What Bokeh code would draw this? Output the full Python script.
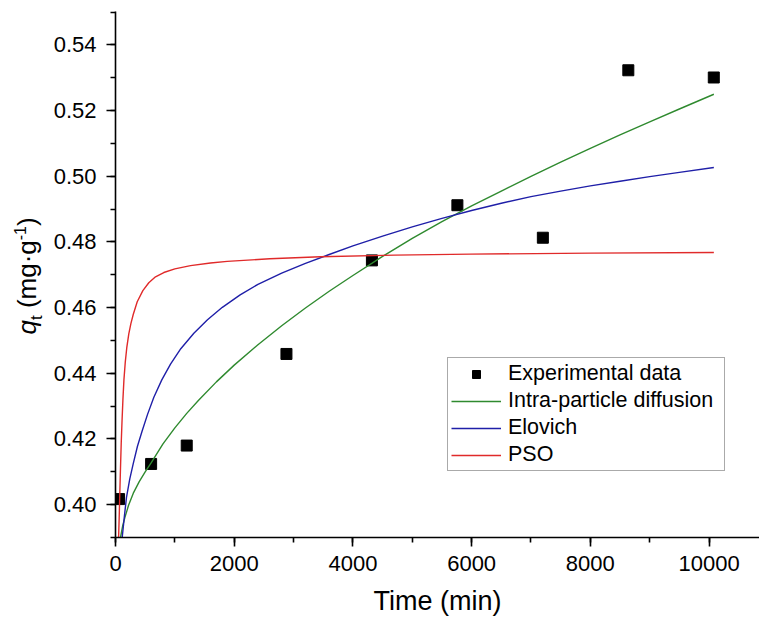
from bokeh.plotting import figure
from bokeh.models import Range1d, SingleIntervalTicker, NumeralTickFormatter, Div
from bokeh.layouts import row
from bokeh.embed import file_html
from bokeh.resources import INLINE

# ---- data ----
time_exp = [60, 600, 1200, 2880, 4320, 5760, 7200, 8640, 10080]
qt_exp = [0.4017, 0.4124, 0.4180, 0.4459, 0.4744, 0.4912, 0.4813, 0.5323, 0.5301]

t_ipd = [84, 120, 160, 220, 300, 400, 500, 600, 800, 1000, 1200, 1400, 1700, 2000, 2400, 2800,
         3200, 3600, 4000, 4500, 5000, 5500, 6000, 6500, 7000, 7500, 8000, 8500, 9000, 9500,
         10081]
q_ipd = [0.3900, 0.3935, 0.3962, 0.3998, 0.4035, 0.4070, 0.4100, 0.4127, 0.4185, 0.4234,
         0.4278, 0.4318, 0.4374, 0.4425, 0.4487, 0.4545, 0.4599, 0.4650, 0.4698, 0.4756,
         0.4811, 0.4862, 0.4910, 0.4955, 0.5000, 0.5043, 0.5085, 0.5126, 0.5166, 0.5205,
         0.5250]

t_elo = [113, 150, 185, 240, 298, 370, 450, 540, 646, 780, 927, 1100, 1320, 1550, 1800, 2100,
         2400, 2800, 3200, 3600, 4000, 4500, 5000, 5500, 6000, 6500, 7000, 7500, 8000, 8500,
         9000, 9500, 10081]
q_elo = [0.3900, 0.3965, 0.4022, 0.4078, 0.4124, 0.4178, 0.4225, 0.4275, 0.4327, 0.4380,
         0.4428, 0.4475, 0.4522, 0.4563, 0.4601, 0.4639, 0.4671, 0.4705, 0.4735, 0.4762,
         0.4788, 0.4818, 0.4846, 0.4872, 0.4896, 0.4918, 0.4938, 0.4955, 0.4971, 0.4985,
         0.4999, 0.5012, 0.5027]

t_pso = [52, 62, 72, 84, 96, 110, 125, 142, 165, 190, 224, 260, 300, 366, 461, 561, 674, 814,
         1000, 1264, 1600, 1882, 2600, 3454, 4700, 5981, 8000, 10081]
q_pso = [0.3900, 0.3960, 0.4030, 0.4110, 0.4185, 0.4255, 0.4320, 0.4380, 0.4435, 0.4478,
         0.4520, 0.4552, 0.4580, 0.4618, 0.4652, 0.4676, 0.4694, 0.4707, 0.4718, 0.4728,
         0.4736, 0.4741, 0.4749, 0.4755, 0.4760, 0.4763, 0.4766, 0.4768]

series_names = ["Experimental data", "Intra-particle diffusion", "Elovich", "PSO"]

X_START, X_END = 0, 10850
Y_START, Y_END = 0.39, 0.5502

FONT = "Liberation Sans"
DIV_W = 45
W, H = 759, 620

p = figure(width=W - DIV_W, height=H, output_backend="svg", toolbar_location=None,
           x_range=Range1d(X_START, X_END), y_range=Range1d(Y_START, Y_END),
           min_border_left=115 - DIV_W, min_border_right=0, min_border_top=11,
           min_border_bottom=83,
           background_fill_color="white", border_fill_color="white")
p.outline_line_color = None
p.grid.visible = False

p.xaxis.ticker = SingleIntervalTicker(interval=2000, num_minor_ticks=2)
p.yaxis.ticker = SingleIntervalTicker(interval=0.02, num_minor_ticks=2)
p.yaxis.formatter = NumeralTickFormatter(format="0.00")
p.xaxis.formatter = NumeralTickFormatter(format="0")

for ax in (p.xaxis, p.yaxis):
    ax.axis_line_width = 1.6
    ax.axis_line_color = "black"
    ax.major_tick_line_width = 1.6
    ax.minor_tick_line_width = 1.6
    ax.major_tick_line_color = "black"
    ax.minor_tick_line_color = "black"
    ax.major_tick_in = 0
    ax.major_tick_out = 9
    ax.minor_tick_in = 0
    ax.minor_tick_out = 5
    ax.major_label_text_font = FONT
    ax.major_label_text_font_size = "22px"
    ax.major_label_text_color = "black"

p.xaxis.major_label_standoff = 9
p.yaxis.major_label_standoff = 10
p.xaxis.axis_label = "Time (min)"
p.xaxis.axis_label_text_font = FONT
p.xaxis.axis_label_text_font_size = "27px"
p.xaxis.axis_label_text_font_style = "normal"
p.xaxis.axis_label_text_color = "black"
p.xaxis.axis_label_standoff = 12

p.scatter(time_exp, qt_exp, marker="square", size=11, color="black",
          legend_label=series_names[0])
p.line(t_ipd, q_ipd, line_color="#2f8a2f", line_width=1.4, legend_label=series_names[1])
p.line(t_elo, q_elo, line_color="#1f1fa8", line_width=1.4, legend_label=series_names[2])
p.line(t_pso, q_pso, line_color="#e02a2a", line_width=1.4, legend_label=series_names[3])

leg = p.legend[0]
leg.location = (332, 66)
leg.border_line_color = "#555555"
leg.border_line_width = 1
leg.background_fill_color = "white"
leg.background_fill_alpha = 1
leg.label_text_font = FONT
leg.label_text_font_size = "21.5px"
leg.label_text_color = "black"
leg.glyph_width = 50
leg.glyph_height = 20
leg.label_height = 20
leg.label_width = 213
leg.spacing = 2
leg.padding = 3
leg.margin = 0
leg.label_standoff = 7

# ---- y axis title as rich text (italic q, subscript t, superscript -1) ----
ytitle = ('<div style="width:%dpx;height:551px;display:flex;align-items:center;'
          'justify-content:center;overflow:visible;">'
          '<div style="transform:translateX(6.5px) rotate(-90deg);white-space:nowrap;'
          'font-family:\'Liberation Sans\';font-size:26px;color:black;line-height:1;">'
          '<i>q</i><sub style="font-size:17px;">t</sub> (mg\u00b7g'
          '<sup style="font-size:16px;">-1</sup>)</div></div>') % DIV_W
div = Div(text=ytitle, width=DIV_W, height=H, margin=(0, 0, 0, 0))

layout = row(div, p, spacing=0)

open("out.html", "w").write(file_html(layout, INLINE))
